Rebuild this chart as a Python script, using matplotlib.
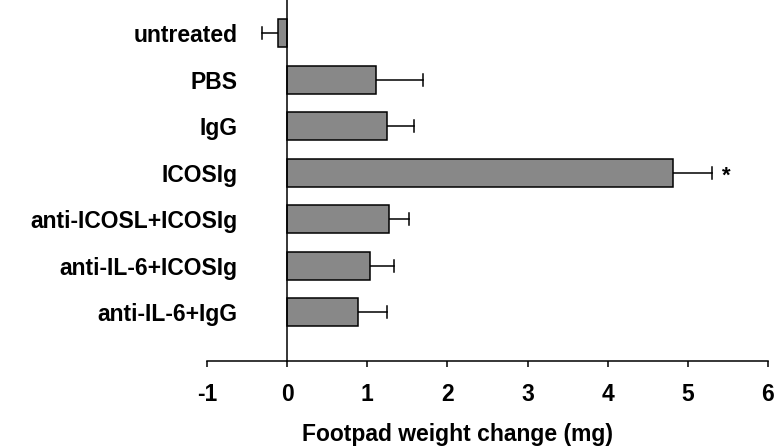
import matplotlib
matplotlib.use("Agg")
import matplotlib.pyplot as plt
import numpy as np

categories = ["untreated", "PBS", "IgG", "ICOSIg", "anti-ICOSL+ICOSIg",
              "anti-IL-6+ICOSIg", "anti-IL-6+IgG"]
values = [-0.11, 1.11, 1.24, 4.82, 1.27, 1.04, 0.88]
errors = [0.20, 0.58, 0.34, 0.48, 0.25, 0.29, 0.37]
xticks = [-1, 0, 1, 2, 3, 4, 5, 6]
star_label = "*"
star_index = 3

plt.rcParams['font.family'] = ['Liberation Sans', 'DejaVu Sans']
plt.rcParams['font.weight'] = 'bold'
plt.rcParams['xtick.labelsize'] = 16.5
plt.rcParams['ytick.labelsize'] = 16.5

fig = plt.figure(figsize=(7.74, 4.47), dpi=100)
ax = fig.add_axes([207/774, 1 - 361/447, (768 - 207)/774, 361/447])

lw = 1.1
ax.spines['top'].set_visible(False)
ax.spines['right'].set_visible(False)
ax.spines['left'].set_position(('data', 0))
ax.spines['left'].set_linewidth(lw)
ax.spines['bottom'].set_linewidth(lw)

y = np.arange(len(categories))
ax.barh(y, values, height=0.6, color="#888888", edgecolor="black", linewidth=lw, zorder=2)

for yi, v, e in zip(y, values, errors):
    end = v + e if v >= 0 else v - e
    ax.plot([v, end], [yi, yi], color="black", lw=lw, zorder=1)
    ax.plot([end, end], [yi - 0.13, yi + 0.13], color="black", lw=lw, zorder=1)

ax.text(values[star_index] + errors[star_index] + 0.12, y[star_index] + 0.08, star_label,
        fontsize=16, fontweight='bold', ha='left', va='center')

ax.set_xlim(-1, 6)
ax.set_ylim(7.05, -0.71)
ax.set_xticks(xticks)
ax.set_xticklabels([str(t) for t in xticks])
ax.set_yticks(y)
ax.set_yticklabels(categories)

ax.tick_params(axis='y', length=0, pad=36, labelsize=16.5)
ax.tick_params(axis='x', direction='out', length=4, width=lw, pad=12, labelsize=16.5)
for lab in ax.get_xticklabels() + ax.get_yticklabels():
    lab.set_fontweight('bold')
    lab.set_fontsize(16.5)

ax.set_xlabel("Footpad weight change (mg)", fontsize=16.5, fontweight='bold')
ax.xaxis.set_label_coords((458 - 207) / 561, -(435 - 361) / 361)
ax.xaxis.label.set_va('center')

fig.savefig("out.png", dpi=100)
